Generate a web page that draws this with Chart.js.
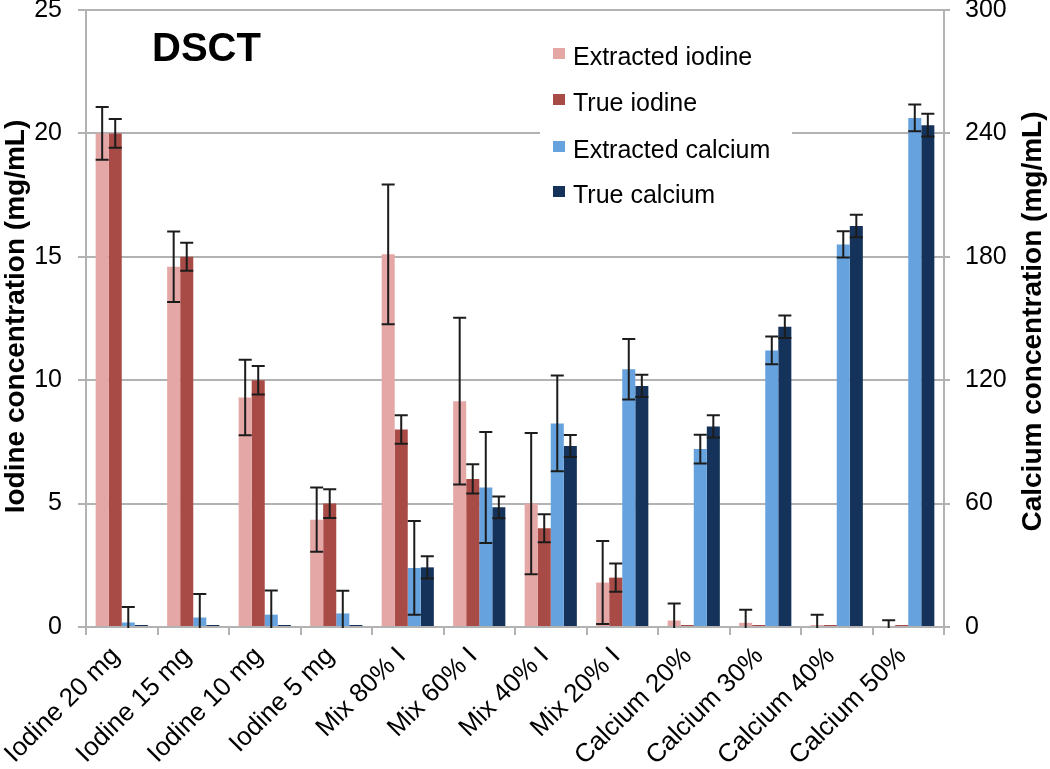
<!DOCTYPE html>
<html>
<head>
<meta charset="utf-8">
<script src="https://cdn.jsdelivr.net/npm/chart.js@4.4.1/dist/chart.umd.min.js"></script>
<style>
  body { margin: 0; background: #fff; }
  canvas { display: block; }
</style>
</head>
<body>
<canvas id="chart-dsct" width="1050" height="769"></canvas>
<script>
// Daten
var categories = ['Iodine 20 mg', 'Iodine 15 mg', 'Iodine 10 mg', 'Iodine 5 mg',
  'Mix 80% I', 'Mix 60% I', 'Mix 40% I', 'Mix 20% I',
  'Calcium 20%', 'Calcium 30%', 'Calcium 40%', 'Calcium 50%'];

var extractedIodine    = [20.0, 14.6, 9.3, 4.35, 15.1, 9.15, 5.0, 1.8, 0.26, 0.17, 0.08, 0.03];
var extractedIodineErr = [1.07, 1.43, 1.53, 1.3, 2.83, 3.38, 2.86, 1.68, 0.69, 0.53, 0.42, 0.24];
var trueIodine         = [20, 15, 10, 5, 8, 6, 4, 2, 0, 0, 0, 0];
var trueIodineErr      = [0.58, 0.57, 0.58, 0.58, 0.58, 0.59, 0.57, 0.57, 0, 0, 0, 0];

var extractedCalcium    = [2.2, 4.6, 6.0, 6.6, 28.7, 67.8, 99, 125.3, 86.5, 134.5, 186, 247.5];
var extractedCalciumErr = [7.5, 11.5, 11.8, 11, 22.8, 27, 23.3, 14.7, 7, 6.8, 6.4, 6.5];
var trueCalcium         = [0, 0, 0, 0, 29, 58.2, 88, 117.2, 97.5, 146, 195, 244];
var trueCalciumErr      = [0, 0, 0, 0, 5.4, 5.3, 5.4, 5.4, 5.4, 5.5, 5.5, 5.5];

var iodineTicks = [0, 5, 10, 15, 20, 25];
var calciumTicks = [0, 60, 120, 180, 240, 300];

var FONT = "'Liberation Sans', Arial, sans-serif";
var gridGray = '#b2b2b2';

var canv = window.document.getElementById('chart-dsct');
var context = canv.getContext('2d');

// Fehlerbalken
var errorBars = {
  id: 'errorBars',
  afterDatasetsDraw: function (chart) {
    var ctx = chart.ctx, area = chart.chartArea;
    ctx.save();
    ctx.beginPath();
    ctx.rect(area.left, area.top, area.right - area.left, area.bottom - area.top + 1);
    ctx.clip();
    ctx.strokeStyle = '#1c1c1c';
    ctx.lineWidth = 2;
    chart.data.datasets.forEach(function (ds, i) {
      var meta = chart.getDatasetMeta(i);
      var scale = chart.scales[ds.yAxisID];
      meta.data.forEach(function (bar, j) {
        var e = ds.errors[j];
        if (!e) return;
        var v = ds.data[j];
        var top = scale.getPixelForValue(v + e);
        var bot = scale.getPixelForValue(v - e);
        var half = bar.width / 2;
        ctx.beginPath();
        ctx.moveTo(bar.x, top); ctx.lineTo(bar.x, bot);
        ctx.moveTo(bar.x - half, top); ctx.lineTo(bar.x + half, top);
        ctx.moveTo(bar.x - half, bot); ctx.lineTo(bar.x + half, bot);
        ctx.stroke();
      });
    });
    ctx.restore();
  }
};

// Titel, Achsentitel, Legende
var decorations = {
  id: 'decorations',
  afterDraw: function (chart) {
    var ctx = chart.ctx, area = chart.chartArea;
    var midY = (area.top + area.bottom) / 2;
    ctx.save();

    ctx.fillStyle = '#000';
    ctx.font = 'bold 40px ' + FONT;
    ctx.textAlign = 'left';
    ctx.textBaseline = 'alphabetic';
    ctx.fillText('DSCT', 152, 61);

    ctx.font = 'bold 28px ' + FONT;
    ctx.textAlign = 'center';
    ctx.textBaseline = 'middle';
    ctx.save();
    ctx.translate(16, midY - 2);
    ctx.rotate(-Math.PI / 2);
    ctx.fillText('Iodine concentration (mg/mL)', 0, 0);
    ctx.restore();
    ctx.save();
    ctx.translate(1033, midY + 3);
    ctx.rotate(-Math.PI / 2);
    ctx.fillText('Calcium concentration (mg/mL)', 0, 0);
    ctx.restore();

    // Legende
    ctx.fillStyle = '#fff';
    ctx.fillRect(540, 28, 252, 186);
    ctx.font = '25px ' + FONT;
    ctx.textAlign = 'left';
    ctx.textBaseline = 'alphabetic';
    var baselines = [65, 111, 158, 203];
    chart.data.datasets.forEach(function (ds, i) {
      ctx.fillStyle = ds.backgroundColor;
      ctx.fillRect(553, baselines[i] - 17, 12, 11);
      ctx.fillStyle = '#000';
      ctx.fillText(ds.label, 573, baselines[i]);
    });
    ctx.restore();
  }
};

var createBarChart = function () {
  var data = {
    labels: categories,
    datasets: [{
      label: 'Extracted iodine',
      data: extractedIodine,
      errors: extractedIodineErr,
      yAxisID: 'y',
      backgroundColor: '#e4a7a5'
    }, {
      label: 'True iodine',
      data: trueIodine,
      errors: trueIodineErr,
      yAxisID: 'y',
      backgroundColor: '#a84a45',
      minBarLength: 2
    }, {
      label: 'Extracted calcium',
      data: extractedCalcium,
      errors: extractedCalciumErr,
      yAxisID: 'y1',
      backgroundColor: '#66a2dd'
    }, {
      label: 'True calcium',
      data: trueCalcium,
      errors: trueCalciumErr,
      yAxisID: 'y1',
      backgroundColor: '#15335a',
      minBarLength: 2
    }]
  };

  var config = {
    type: 'bar',
    data: data,
    options: {
      responsive: false,
      animation: false,
      devicePixelRatio: 1,
      categoryPercentage: 0.73,
      barPercentage: 1.0,
      layout: { padding: { top: 10, left: 0, right: 0, bottom: 0 } },
      plugins: {
        legend: { display: false },
        tooltip: { enabled: false }
      },
      scales: {
        x: {
          grid: { offset: true, drawOnChartArea: false, tickLength: 8, color: gridGray, lineWidth: 2 },
          border: { color: gridGray, width: 2 },
          ticks: {
            minRotation: 45, maxRotation: 45, padding: 6, labelOffset: -6, color: '#000',
            font: { family: FONT, size: 26 }
          },
          afterFit: function (s) { s.height = 142; s.paddingLeft = 0; s.paddingRight = 0; }
        },
        y: {
          position: 'left',
          min: 0, max: 25,
          afterBuildTicks: function (s) { s.ticks = iodineTicks.map(function (v) { return { value: v }; }); },
          grid: { color: gridGray, lineWidth: 2, tickLength: 8 },
          border: { color: gridGray, width: 2 },
          ticks: { padding: 16, color: '#000', font: { family: FONT, size: 25 } },
          afterFit: function (s) { s.width = 86; s.paddingTop = 0; s.paddingBottom = 0; }
        },
        y1: {
          position: 'right',
          min: 0, max: 300,
          afterBuildTicks: function (s) { s.ticks = calciumTicks.map(function (v) { return { value: v }; }); },
          grid: { drawOnChartArea: false, color: gridGray, lineWidth: 2, tickLength: 6 },
          border: { color: gridGray, width: 2 },
          ticks: { padding: 15, color: '#000', font: { family: FONT, size: 25 } },
          afterFit: function (s) { s.width = 106; s.paddingTop = 0; s.paddingBottom = 0; }
        }
      }
    },
    plugins: [errorBars, decorations]
  };
  var chart1 = new Chart(context, config);
};

createBarChart();
</script>
</body>
</html>
